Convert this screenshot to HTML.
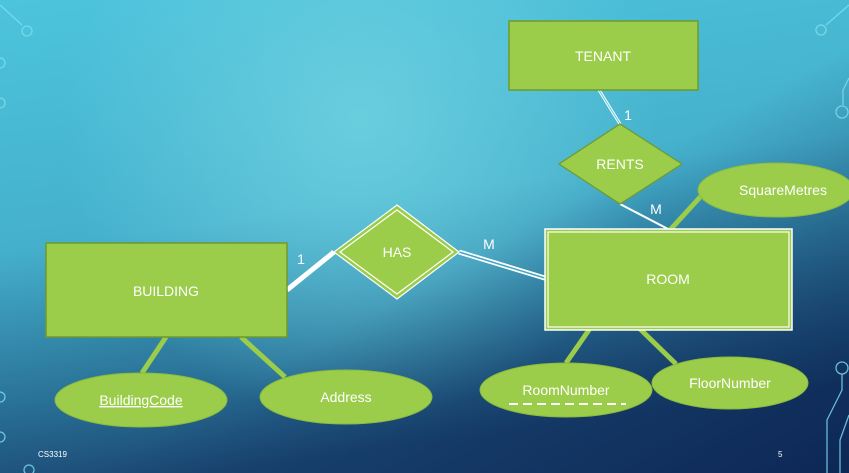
<!DOCTYPE html>
<html><head><meta charset="utf-8"><style>
html,body{margin:0;padding:0;width:849px;height:473px;overflow:hidden}
svg{display:block}
text{font-family:"Liberation Sans",sans-serif;fill:#fff}
</style></head><body>
<svg width="849" height="473" viewBox="0 0 849 473" xmlns="http://www.w3.org/2000/svg">
<defs>
<linearGradient id="v" x1="0" y1="0" x2="0.25" y2="1">
<stop offset="0" stop-color="#4cc4dc"/>
<stop offset="0.5" stop-color="#45b0cc"/>
<stop offset="0.8" stop-color="#2a7398"/>
<stop offset="1" stop-color="#1a4773"/>
</linearGradient>
<radialGradient id="r" cx="360" cy="120" r="300" gradientUnits="userSpaceOnUse">
<stop offset="0" stop-color="#6dd0e0" stop-opacity="0.9"/>
<stop offset="1" stop-color="#6dd0e0" stop-opacity="0"/>
</radialGradient>
<linearGradient id="d" x1="0" y1="0" x2="1" y2="1">
<stop offset="0.55" stop-color="#0a1f4e" stop-opacity="0"/>
<stop offset="1" stop-color="#0a1f4e" stop-opacity="0.8"/>
</linearGradient>
</defs>
<rect width="849" height="473" fill="url(#v)"/>
<rect width="849" height="473" fill="url(#r)"/>
<rect width="849" height="473" fill="url(#d)"/>
<g stroke="#7fe0ee" stroke-width="1.3" fill="none" opacity="0.8">
<path d="M0 5 L22 25"/><circle cx="27" cy="31" r="5"/>
<circle cx="0" cy="63" r="5"/><circle cx="0" cy="103" r="5"/>
<circle cx="0" cy="397" r="5"/><circle cx="0" cy="437" r="5"/><circle cx="29" cy="470" r="5"/>
<path d="M849 5 L826 25"/><circle cx="821" cy="30" r="5"/>
<path d="M849 78 L843 90 L843 105"/><circle cx="842" cy="112" r="6"/>
<circle cx="842" cy="368" r="6"/><path d="M842 374 L842 390 L827 420 L827 473"/>
<path d="M849 415 L840 440 L840 473"/>
</g>
<g stroke="#9bcc4a" stroke-width="5" stroke-linecap="butt">
<line x1="166" y1="337" x2="142" y2="373"/>
<line x1="241" y1="337" x2="285" y2="377"/>
<line x1="591" y1="327" x2="566" y2="363"/>
<line x1="638" y1="327" x2="676" y2="364"/>
<line x1="670" y1="230" x2="702" y2="195"/>
</g>
<line x1="287" y1="290" x2="334" y2="252" stroke="#fff" stroke-width="5"/>
<line x1="620" y1="204" x2="668" y2="229" stroke="#fff" stroke-width="2"/>
<line x1="599" y1="90" x2="620" y2="124" stroke="#fff" stroke-width="3"/>
<line x1="599" y1="90" x2="620" y2="124" stroke="#5cc8dc" stroke-width="1"/>
<line x1="459" y1="252" x2="548" y2="279" stroke="#fff" stroke-width="5"/>
<line x1="459" y1="252" x2="548" y2="279" stroke="#3fa6c4" stroke-width="1.5"/>
<rect x="509" y="21" width="189" height="69" fill="#9bcc4a" stroke="#6f9a2a" stroke-width="1.5"/>
<rect x="46" y="243" width="241" height="94" fill="#9bcc4a" stroke="#6f9a2a" stroke-width="1.5"/>
<rect x="545" y="229" width="247" height="101" fill="#9bcc4a" stroke="#fff" stroke-width="1.5"/>
<rect x="548" y="232" width="241" height="95" fill="none" stroke="#fff" stroke-width="1.2"/>
<polygon points="620,124 682,164 620,204 559,164" fill="#9bcc4a" stroke="#6f9a2a" stroke-width="1.2"/>
<polygon points="397,205 459,252 397,299 334,252" fill="#9bcc4a" stroke="#fff" stroke-width="1.2"/>
<polygon points="397,210 453,252 397,294 340,252" fill="none" stroke="#fff" stroke-width="1.2"/>
<g fill="#9bcc4a" stroke="#8bbb3e" stroke-width="1">
<ellipse cx="776" cy="190" rx="78" ry="27"/>
<ellipse cx="141" cy="400" rx="86" ry="27"/>
<ellipse cx="346" cy="397" rx="86" ry="27"/>
<ellipse cx="566" cy="390" rx="86" ry="27"/>
<ellipse cx="730" cy="383" rx="78" ry="26"/>
</g>
<line x1="509" y1="404" x2="626" y2="404" stroke="#fff" stroke-width="2" stroke-dasharray="9,5"/>
<g font-size="14" text-anchor="middle">
<text x="603" y="61">TENANT</text>
<text x="620" y="169">RENTS</text>
<text x="397" y="257">HAS</text>
<text x="166" y="296">BUILDING</text>
<text x="668" y="284">ROOM</text>
<text x="783" y="195">SquareMetres</text>
<text x="141" y="405" text-decoration="underline">BuildingCode</text>
<text x="346" y="402">Address</text>
<text x="566" y="395">RoomNumber</text>
<text x="730" y="388">FloorNumber</text>
<text x="301" y="264">1</text>
<text x="489" y="249">M</text>
<text x="628" y="120">1</text>
<text x="656" y="214">M</text>
</g>
<text x="38" y="457" font-size="8">CS3319</text>
<text x="778" y="457" font-size="8">5</text>
</svg>
</body></html>
